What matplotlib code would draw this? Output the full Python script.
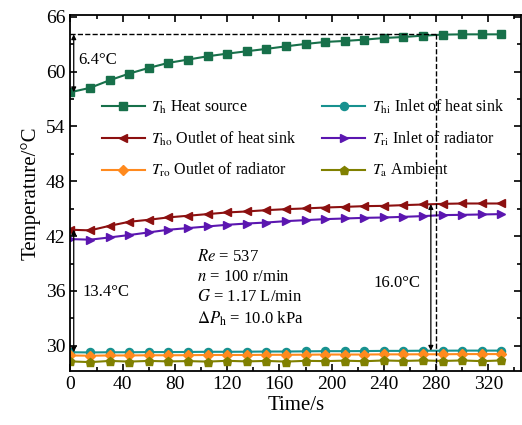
import numpy as np
import matplotlib
matplotlib.use("Agg")
import matplotlib.pyplot as plt
from matplotlib.ticker import MultipleLocator

plt.rcParams['font.family'] = 'Liberation Serif'
plt.rcParams['mathtext.fontset'] = 'stix'

# time points (s)
t = np.arange(0, 331, 15)

T_h = [57.74, 58.22, 59.05, 59.78, 60.40, 60.95, 61.31, 61.67, 61.96, 62.22, 62.48, 62.76,
       63.02, 63.24, 63.35, 63.49, 63.67, 63.78, 63.93, 64.04, 64.07, 64.07, 64.07]
T_ho = [42.70, 42.63, 43.13, 43.57, 43.79, 44.05, 44.23, 44.41, 44.59, 44.70, 44.84, 44.95,
        45.03, 45.13, 45.20, 45.28, 45.31, 45.39, 45.46, 45.53, 45.57, 45.57, 45.57]
T_ri = [41.68, 41.61, 41.86, 42.12, 42.41, 42.70, 42.88, 43.06, 43.24, 43.38, 43.49, 43.64,
        43.75, 43.86, 43.93, 44.00, 44.04, 44.11, 44.19, 44.30, 44.33, 44.37, 44.41]
T_hi = [29.30, 29.28, 29.30, 29.30, 29.32, 29.32, 29.33, 29.35, 29.35, 29.36, 29.38, 29.38,
        29.40, 29.42, 29.42, 29.43, 29.45, 29.45, 29.47, 29.47, 29.48, 29.48, 29.48]
T_ro = [28.95, 28.92, 28.95, 28.95, 28.97, 28.97, 28.98, 29.00, 29.00, 29.00, 29.02, 29.02,
        29.03, 29.05, 29.05, 29.05, 29.07, 29.07, 29.08, 29.08, 29.10, 29.10, 29.10]
T_a = [28.30, 28.22, 28.35, 28.28, 28.35, 28.30, 28.33, 28.28, 28.36, 28.30, 28.35, 28.28,
       28.36, 28.33, 28.38, 28.32, 28.40, 28.35, 28.40, 28.35, 28.40, 28.33, 28.40]

fig = plt.figure(figsize=(5.22, 4.25), dpi=100)
ax = fig.add_axes([0.135, 0.126, 0.863, 0.839])

lw, ms = 1.5, 5.8
l_h, = ax.plot(t, T_h, '-s', color='#17704a', lw=lw, ms=ms, label=r'$T_{\rm h}$ Heat source')
l_hi, = ax.plot(t, T_hi, '-o', color='#17918f', lw=lw, ms=ms, label=r'$T_{\rm hi}$ Inlet of heat sink')
l_ho, = ax.plot(t, T_ho, '-<', color='#8c1010', lw=lw, ms=ms, label=r'$T_{\rm ho}$ Outlet of heat sink')
l_ri, = ax.plot(t, T_ri, '->', color='#5b16b0', lw=lw, ms=ms, label=r'$T_{\rm ri}$ Inlet of radiator')
l_ro, = ax.plot(t, T_ro, '-D', color='#ff8a1e', lw=lw, ms=4.8, label=r'$T_{\rm ro}$ Outlet of radiator')
l_a, = ax.plot(t, T_a, '-p', color='#808000', lw=lw, ms=ms + 0.6, label=r'$T_{\rm a}$ Ambient')

ax.set_xlim(0, 345)
ax.set_ylim(27.2, 66.2)
ax.xaxis.set_major_locator(MultipleLocator(40))
ax.xaxis.set_minor_locator(MultipleLocator(20))
ax.yaxis.set_major_locator(MultipleLocator(6))
ax.yaxis.set_minor_locator(MultipleLocator(3))
ax.tick_params(which='both', direction='in', top=True, right=True, labelsize=14, width=1.2)
ax.tick_params(which='major', length=5)
ax.tick_params(which='minor', length=3)
for s in ax.spines.values():
    s.set_linewidth(1.3)
ax.set_xlabel('Time/s', fontsize=15, labelpad=2)
ax.set_ylabel('Temperature/°C', fontsize=15, labelpad=4)

ax.legend(handles=[l_h, l_ho, l_ro, l_hi, l_ri, l_a], ncol=2, frameon=False, fontsize=11.5,
          loc='upper left', bbox_to_anchor=(0.055, 0.785), handlelength=2.7,
          handletextpad=0.4, labelspacing=0.85, columnspacing=1.6, borderaxespad=0)

# reference lines at t = 280 s
ax.plot([0, 280], [64.07, 64.07], 'k--', lw=1)
ax.plot([280, 280], [64.07, 27.2], 'k--', lw=1)

arw = dict(arrowstyle='<|-|>', color='k', lw=0.9, mutation_scale=7, shrinkA=0, shrinkB=0)
ax.annotate('', xy=(2.5, 64.07), xytext=(2.5, 57.74), arrowprops=arw)
ax.annotate('', xy=(2.5, 42.70), xytext=(2.5, 29.30), arrowprops=arw)
ax.annotate('', xy=(276, 45.50), xytext=(276, 29.47), arrowprops=arw)
ax.text(6, 61.3, '6.4°C', fontsize=12, va='center')
ax.text(9.5, 35.9, '13.4°C', fontsize=12, va='center')
ax.text(268, 36.9, '16.0°C', fontsize=12, va='center', ha='right')

ax.text(97, 39.74, r'$Re$ = 537', fontsize=12, va='center')
ax.text(97, 37.55, r'$n$ = 100 r/min', fontsize=12, va='center')
ax.text(97, 35.36, r'$G$ = 1.17 L/min', fontsize=12, va='center')
ax.text(97, 32.95, r'$\Delta P_{\rm h}$ = 10.0 kPa', fontsize=12, va='center')

fig.savefig('out.png', dpi=100)
